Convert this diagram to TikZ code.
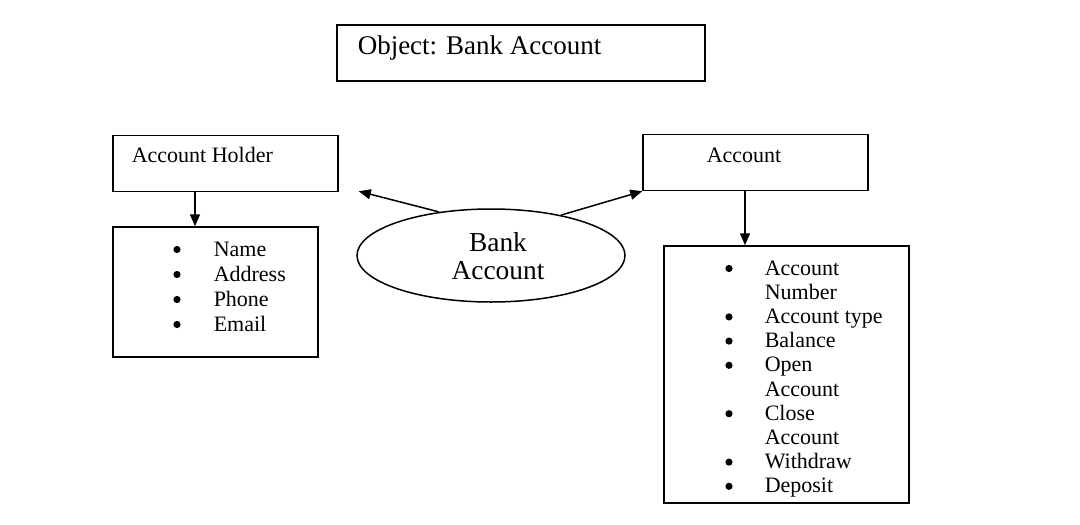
\documentclass[tikz,border=0pt]{standalone}
\usepackage{fontspec}
\setmainfont{Liberation Serif}
\usetikzlibrary{shapes.geometric,arrows.meta}

\begin{document}
\begin{tikzpicture}[x=0.5pt, y=-0.5pt, >={Triangle[length=6pt,width=5pt]}, line width=0.75pt, inner sep=0pt]
\tikzstyle{box}=[draw, rectangle]
\tikzstyle{label}=[anchor=base west, font=\fontsize{11}{13}\selectfont]
\tikzstyle{item}=[anchor=base west, font=\fontsize{11}{13}\selectfont]
\tikzstyle{dot}=[circle, fill, minimum size=3.6pt]
\useasboundingbox (0,0) rectangle (1080,524);

\node [box, minimum width=184pt, minimum height=28pt] (title) at (521,53) {};
\node [anchor=base west, font=\fontsize{13.5}{16}\selectfont] (titletext) at (357,55) {Object: Bank Account};

\node [box, minimum width=112.5pt, minimum height=28pt] (holder) at (225.5,163.5) {};
\node [label] (holdertext) at (131,162) {Account Holder};
\node [box, minimum width=112.5pt, minimum height=28pt] (account) at (755.5,162.5) {};
\node [label] (accounttext) at (706,162) {Account};

\node [box, minimum width=102.5pt, minimum height=65pt] (hlist) at (215.5,292) {};
\node [box, minimum width=122.5pt, minimum height=128.5pt] (alist) at (786.5,374.5) {};

\node [draw, ellipse, minimum width=134pt, minimum height=46.5pt] (bank) at (491,255.5) {};
\node [align=center, font=\fontsize{13.7}{14}\selectfont] (banktext) at (498,256) {Bank\\Account};

% holder details
\foreach \t [count=\i from 0] in {Name,Address,Phone,Email} {
  \node [item] (h\i) at (213,256+25*\i) {\t};
  \node [dot] (hb\i) at (177,249.5+25*\i) {};
}

% account details
\foreach \t [count=\i from 0] in {Account,Number,Account type,Balance,Open,Account,Close,Account,Withdraw,Deposit}
  \node [item] (a\i) at (764,275+24.2*\i) {\t};
\foreach \i in {0,2,3,4,6,8,9}
  \node [dot] (ab\i) at (729,268.5+24.2*\i) {};

\coordinate (hdrop) at (195,0);
\coordinate (adrop) at (745,0);
\draw [->] (holder.south -| hdrop) -- (hlist.north -| hdrop);
\draw [->] (account.south -| adrop) -- (alist.north -| adrop);
\draw [->] (bank.140) -- ([xshift=10pt,yshift=0.5pt]holder.south east);
\draw [->] (bank.30) -- (account.south west);

\end{tikzpicture}
\end{document}
